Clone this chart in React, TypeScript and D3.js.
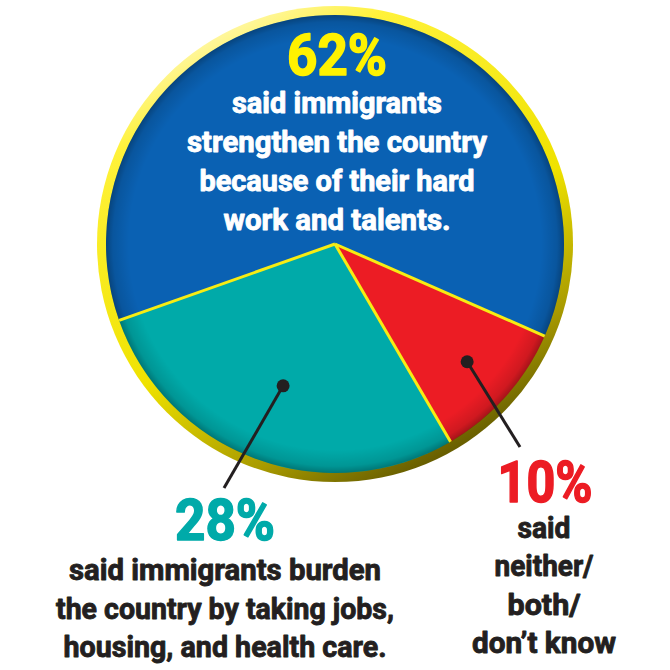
import React from "react";
import * as d3 from "d3";

// ---- data ----
const categories = ["neither", "burden", "strengthen"];
const values = [10, 28, 62];
const sliceColors = ["#ec1c24", "#00aaa9", "#0a61b3"];
const strengthenLines = [
  "said immigrants",
  "strengthen the country",
  "because of their hard",
  "work and talents.",
];
const burdenLines = [
  "said immigrants burden",
  "the country by taking jobs,",
  "housing, and health care.",
];
const neitherLines = ["said", "neither/", "both/", "don\u2019t know"];

// ---- layout (measured text widths) ----
const strengthenWidths = [210, 300, 275, 227];
const burdenWidths = [312, 338, 323];
const neitherWidths = [53, 99, 73, 144];

const W = 670;
const H = 670;
const FONT = "Roboto, 'DejaVu Sans', sans-serif";

function Fit({ x, y, w, size, fill, children, sw = 0.9 }: any) {
  return (
    <text
      x={x}
      y={y}
      fontSize={size}
      fill={fill}
      stroke={fill}
      strokeWidth={sw}
      strokeLinejoin="round"
      textLength={w}
      lengthAdjust="spacingAndGlyphs"
    >
      {children}
    </text>
  );
}

export default function App() {
  const cx = 335;
  const cy = 244;
  const rOuter = 238;
  const rInner = 229;
  const startDeg = 113.7;
  const pie = d3
    .pie<number>()
    .sort(null)
    .startAngle((startDeg * Math.PI) / 180)
    .endAngle((startDeg * Math.PI) / 180 + 2 * Math.PI);
  const arcs = pie(values);
  const arc = d3.arc<d3.PieArcDatum<number>>().innerRadius(0).outerRadius(rInner);

  const dotRadius: Record<string, number> = { neither: 177, burden: 151 };
  const dotAt = (i: number) => {
    const a = arcs[i];
    const r = dotRadius[categories[i]];
    const c = d3.arc<d3.PieArcDatum<number>>().innerRadius(r).outerRadius(r).centroid(a);
    return [cx + c[0], cy + c[1]];
  };
  const redDot = dotAt(0);
  const tealDot = dotAt(1);

  return (
    <svg
      width={W}
      height={H}
      viewBox={`0 0 ${W} ${H}`}
      style={{ position: "absolute", left: 0, top: 0, background: "#fff" }}
    >
      <defs>
        <linearGradient id="rim" x1="0.25" y1="0.05" x2="0.75" y2="1">
          <stop offset="0" stopColor="#fff7a8" />
          <stop offset="0.12" stopColor="#fff23a" />
          <stop offset="0.55" stopColor="#efe200" />
          <stop offset="0.8" stopColor="#a89a00" />
          <stop offset="1" stopColor="#4f4700" />
        </linearGradient>
        <radialGradient id="inshadow" cx="0.5" cy="0.5" r="0.5">
          <stop offset="0.9" stopColor="#000" stopOpacity="0" />
          <stop offset="0.97" stopColor="#000" stopOpacity="0.12" />
          <stop offset="1" stopColor="#000" stopOpacity="0.3" />
        </radialGradient>
      </defs>
      <rect width={W} height={H} fill="#fff" />
      <circle cx={cx} cy={cy} r={rOuter} fill="url(#rim)" />
      <g transform={`translate(${cx},${cy})`}>
        {arcs.map((a, i) => (
          <path key={categories[i]} d={arc(a) || ""} fill={sliceColors[i]} />
        ))}
        <circle r={rInner} fill="url(#inshadow)" />
        {arcs.map((a, i) => {
          const ang = a.startAngle;
          return (
            <line
              key={"e" + i}
              x1={0}
              y1={0}
              x2={Math.sin(ang) * rInner}
              y2={-Math.cos(ang) * rInner}
              stroke="#f7ec13"
              strokeWidth={3}
            />
          );
        })}
      </g>

      {/* leaders */}
      <line x1={tealDot[0]} y1={tealDot[1]} x2={224} y2={488} stroke="#231f20" strokeWidth={3} />
      <circle cx={tealDot[0]} cy={tealDot[1]} r={6.5} fill="#231f20" />
      <line x1={redDot[0]} y1={redDot[1]} x2={520} y2={447} stroke="#231f20" strokeWidth={3} />
      <circle cx={redDot[0]} cy={redDot[1]} r={6.5} fill="#231f20" />

      <g fontFamily={FONT} fontWeight="bold" textAnchor="middle">
        <Fit x={337} y={75} size={57} w={100} fill="#fff200" sw={1.5}>
          {values[2]}%
        </Fit>
        {strengthenLines.map((t, i) => (
          <Fit key={t} x={337} y={113 + i * 39} size={30} w={strengthenWidths[i]} fill="#fff">
            {t}
          </Fit>
        ))}
        <Fit x={225} y={540} size={57} w={100} fill="#00aaa9" sw={1.5}>
          {values[1]}%
        </Fit>
        {burdenLines.map((t, i) => (
          <Fit key={t} x={225} y={580 + i * 38.5} size={30} w={burdenWidths[i]} fill="#231f20">
            {t}
          </Fit>
        ))}
        <Fit x={545} y={502} size={57} w={95} fill="#ec1c24" sw={1.5}>
          {values[0]}%
        </Fit>
        {neitherLines.map((t, i) => (
          <Fit key={t} x={544} y={538 + i * 38.3} size={30} w={neitherWidths[i]} fill="#231f20">
            {t}
          </Fit>
        ))}
      </g>
    </svg>
  );
}
